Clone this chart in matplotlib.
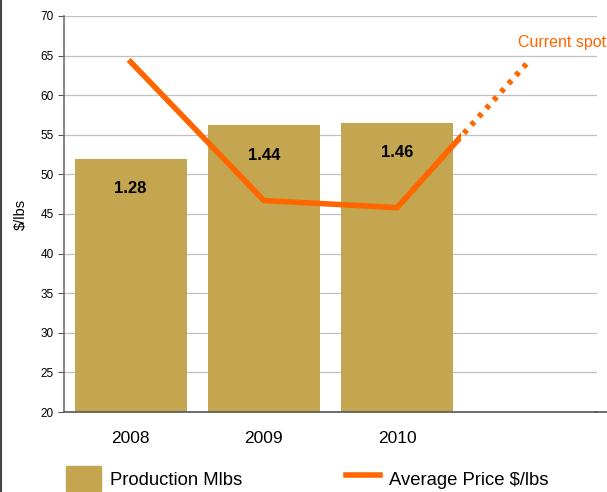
import numpy as np
import matplotlib.pyplot as plt
from matplotlib.lines import Line2D
from matplotlib.patches import Rectangle

plt.rcParams['font.family'] = ['Liberation Sans', 'DejaVu Sans']

years = ['2008', '2009', '2010']
production = [1.28, 1.44, 1.46]
bar_heights = [52.0, 56.2, 56.5]
avg_price = [64.2, 46.7, 45.8]
spot_price = 64.5
spot_label = 'Current spot'

gold = '#C4A550'
orange = '#FF6600'

fig = plt.figure(figsize=(6.07, 4.92), dpi=100)
ax = fig.add_axes([0.1054, 0.1626, 0.878, 0.805])

x = np.arange(len(years))
ax.bar(x, [h - 20 for h in bar_heights], bottom=20, width=0.84, color=gold,
       zorder=2, label='Production Mlbs')
for xi, h, p in zip(x, bar_heights, production):
    ax.text(xi, h - 3.8, '%.2f' % p, ha='center', va='center', fontsize=12,
            fontweight='bold', color='black', zorder=4)

# price line; last leg to spot drawn dotted, first half of it solid
xs = list(x) + [len(years)]
ys = avg_price + [spot_price]
ax.plot(xs[-2:], ys[-2:], color=orange, lw=4, ls=(0, (0.8, 1.2)), zorder=3)
solid, = ax.plot(xs, ys, color=orange, lw=4, zorder=3,
                 solid_joinstyle='miter', label='Average Price $/lbs')
clip = Rectangle((-1, 0), len(years) - 1 + 1.48, 100, transform=ax.transData)
solid.set_clip_path(clip)
fig.text(0.999, 0.898, spot_label, color=orange, fontsize=11.5,
         ha='right', va='bottom')

ax.set_xlim(-0.5, len(years) + 0.5)
ax.set_ylim(20, 70)
ax.set_yticks(range(20, 71, 5))
ax.set_xticks(x)
ax.set_xticklabels(years, fontsize=12.5)
ax.tick_params(axis='x', length=0, pad=14)
ax.tick_params(axis='y', length=4, direction='out', labelsize=8.5, color='#555555')
ax.yaxis.grid(True, color='#c0c0c0', lw=0.9, zorder=0)
ax.set_axisbelow(True)
for s in ['top', 'right']:
    ax.spines[s].set_visible(False)
ax.spines['left'].set_color('#707070')
ax.spines['bottom'].set_color('#555555')
ax.spines['left'].set_linewidth(1.2)
ax.spines['bottom'].set_linewidth(1.2)
ax.set_ylabel('$/lbs', fontsize=10.5, labelpad=9)

# extend the base line to the right edge and draw the frame line on the left
fig.add_artist(Line2D([0.98, 1.0], [0.1626, 0.1626], color='#555555', lw=1.2))
fig.add_artist(Line2D([0.002, 0.002], [0, 1], color='#444444', lw=1.5))

handles = [Rectangle((0, 0), 1, 1, color=gold),
           Line2D([0], [0], color=orange, lw=4)]
fig.legend(handles, ['Production Mlbs', 'Average Price $/lbs'],
           loc='lower left', bbox_to_anchor=(0.082, -0.032), ncol=2,
           frameon=False, fontsize=13.3, handlelength=1.85, handleheight=1.7,
           columnspacing=5.6, handletextpad=0.5)

fig.savefig('out.png', dpi=100)
